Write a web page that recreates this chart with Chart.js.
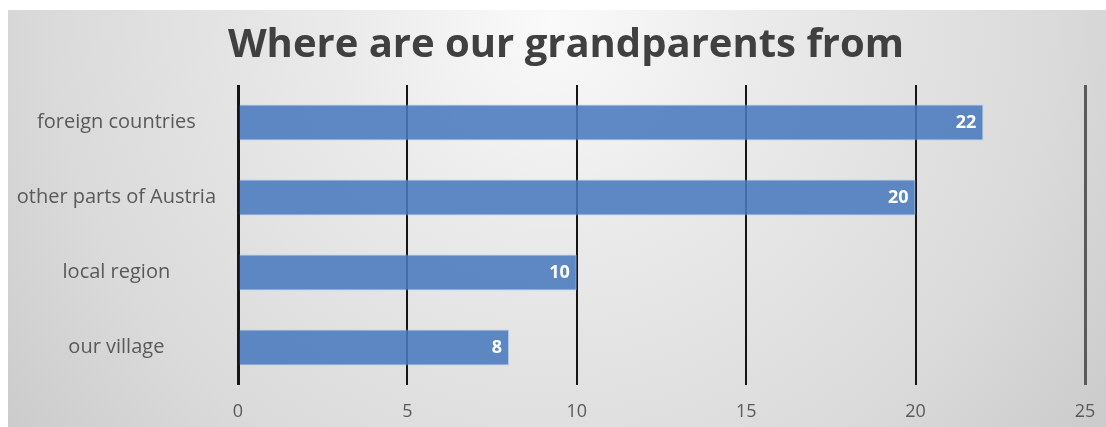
<!DOCTYPE html>
<html>
<head>
<meta charset="utf-8">
<script src="https://cdn.jsdelivr.net/npm/chart.js@4.4.0/dist/chart.umd.min.js"></script>
<style>
  html, body { margin: 0; padding: 0; background: #ffffff; }
  #wrap { width: 1106px; height: 427px; position: relative; }
</style>
</head>
<body>
<div id="wrap"><canvas id="c" width="1106" height="427"></canvas></div>
<script>
const chartTitle = 'Where are our grandparents from';
const categories = ['foreign countries', 'other parts of Austria', 'local region', 'our village'];
const values = [22, 20, 10, 8];
const xTicks = [0, 5, 10, 15, 20, 25];

const FONT = "'Open Sans', 'DejaVu Sans', sans-serif";

const bgPlugin = {
  id: 'bg',
  beforeDraw(chart) {
    const ctx = chart.ctx;
    ctx.save();
    ctx.fillStyle = '#ffffff';
    ctx.fillRect(0, 0, chart.width, chart.height);
    const g = ctx.createRadialGradient(553, 20, 0, 553, 20, 720);
    g.addColorStop(0, '#fafafa');
    g.addColorStop(0.3, '#eaeaea');
    g.addColorStop(0.7, '#dadada');
    g.addColorStop(1, '#c8c8c8');
    ctx.fillStyle = g;
    ctx.fillRect(8, 10, chart.width - 8, chart.height - 10);
    ctx.restore();
  }
};

const titlePlugin = {
  id: 'offsetTitle',
  afterDraw(chart) {
    const ctx = chart.ctx;
    ctx.save();
    ctx.fillStyle = '#404040';
    ctx.font = "bold 40px " + FONT;
    ctx.textAlign = 'center';
    ctx.textBaseline = 'middle';
    ctx.fillText(chartTitle, 566, 46);
    ctx.restore();
  }
};

const labelPlugin = {
  id: 'barLabels',
  afterDatasetsDraw(chart) {
    const ctx = chart.ctx;
    const meta = chart.getDatasetMeta(0);
    ctx.save();
    ctx.fillStyle = '#ffffff';
    ctx.font = "bold 18px " + FONT;
    ctx.textAlign = 'right';
    ctx.textBaseline = 'middle';
    meta.data.forEach((bar, i) => {
      ctx.fillText(String(values[i]), bar.x - 7, bar.y);
    });
    ctx.restore();
  }
};

new Chart(document.getElementById('c'), {
  type: 'bar',
  data: {
    labels: categories,
    datasets: [{
      data: values,
      backgroundColor: 'rgba(74,122,190,0.88)',
      borderColor: 'rgba(150,185,230,0.6)',
      borderWidth: 1,
      barPercentage: 0.48,
      categoryPercentage: 1
    }]
  },
  options: {
    indexAxis: 'y',
    responsive: false,
    animation: false,
    devicePixelRatio: 1,
    layout: { padding: { top: 85, right: 21, bottom: 0, left: 0 } },
    plugins: {
      legend: { display: false },
      tooltip: { enabled: false },
      title: { display: false }
    },
    scales: {
      x: {
        min: 0,
        max: 25,
        afterBuildTicks(scale) { scale.ticks = xTicks.map(v => ({ value: v })); },
        afterFit(scale) { scale.height = 42; scale.paddingRight = 0; scale.paddingLeft = 0; },
        border: { display: false },
        grid: {
          display: true,
          drawTicks: false,
          color: (c) => c.index === xTicks.length - 1 ? '#5a5a5a' : '#151515',
          lineWidth: (c) => (c.index === 0 || c.index === xTicks.length - 1) ? 3 : 2
        },
        ticks: {
          padding: 16,
          color: '#595959',
          font: { family: FONT, size: 18 }
        }
      },
      y: {
        border: { display: false },
        grid: { display: false },
        afterFit(scale) { scale.width = 238; },
        ticks: {
          crossAlign: 'center',
          padding: 14,
          color: '#595959',
          font: { family: FONT, size: 20 }
        }
      }
    }
  },
  plugins: [bgPlugin, labelPlugin, titlePlugin]
});
</script>
</body>
</html>
